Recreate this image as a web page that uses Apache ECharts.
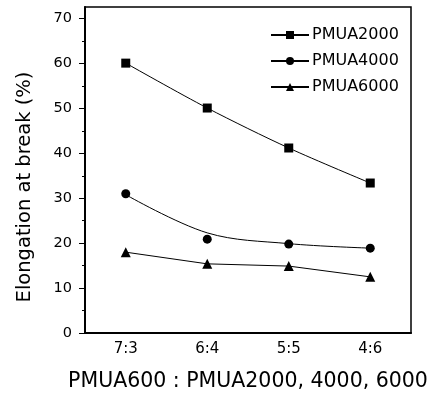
<!DOCTYPE html>
<html>
<head>
<meta charset="utf-8">
<script src="https://cdn.jsdelivr.net/npm/echarts@6/dist/echarts.min.js"></script>
<style>
  html, body { margin: 0; padding: 0; background: #fff; }
  #chart { width: 434px; height: 398px; }
</style>
</head>
<body>
<div id="chart"></div>
<script>
var ratios = ['7:3', '6:4', '5:5', '4:6'];
var pmua2000 = [60.1, 50.1, 41.2, 33.4];
var pmua4000 = [31.0, 20.9, 19.8, 18.9];
// fitted curve drawn through the PMUA4000 points (it misses the 6:4 point)
var pmua4000Fit = [30.8, 22.3, 19.9, 18.9];
var pmua6000 = [18.0, 15.4, 14.9, 12.5];
var yTicks = [0, 10, 20, 30, 40, 50, 60, 70];
var yMinorTicks = [5, 15, 25, 35, 45, 55, 65];

var font = 'DejaVu Sans';
var myChart = echarts.init(document.getElementById('chart'));

var option = {
    animation: false,
    backgroundColor: '#fff',
    textStyle: { fontFamily: font, color: '#000' },
    grid: {
        left: 85,
        right: 23,
        top: 7,
        bottom: 65,
        show: true,
        borderColor: '#000',
        borderWidth: 1.5
    },
    legend: {
        orient: 'vertical',
        left: 270,
        top: 27,
        padding: 0,
        itemWidth: 38,
        itemHeight: 10,
        itemGap: 10,
        data: ['PMUA2000', 'PMUA4000', 'PMUA6000'],
        textStyle: { fontFamily: font, fontSize: 16, color: '#000', padding: [0, 0, 0, -2] }
    },
    xAxis: [
        {
            type: 'category',
            data: ratios,
            position: 'bottom',
            boundaryGap: true,
            axisLine: { lineStyle: { color: '#000', width: 2 } },
            axisTick: { alignWithLabel: true, length: 4, lineStyle: { color: '#000' } },
            axisLabel: { fontFamily: font, fontSize: 15, color: '#000', margin: 9 },
            splitLine: { show: false },
            name: 'PMUA600 : PMUA2000, 4000, 6000',
            nameLocation: 'middle',
            nameGap: 38,
            nameTextStyle: { fontFamily: font, fontSize: 20.5, color: '#000' }
        },
        {
            type: 'category',
            data: ratios,
            position: 'bottom',
            boundaryGap: true,
            axisLine: { show: false },
            axisTick: { length: 2, lineStyle: { color: '#000' } },
            axisLabel: { show: false },
            splitLine: { show: false }
        }
    ],
    yAxis: [
        {
            type: 'value',
            min: 0,
            max: 72.6,
            axisLine: { show: true, lineStyle: { color: '#000', width: 2 } },
            axisTick: { show: true, length: 6, customValues: yTicks, lineStyle: { color: '#000' } },
            axisLabel: { fontFamily: font, fontSize: 14.5, color: '#000', margin: 13, customValues: yTicks },
            splitLine: { show: false },
            name: 'Elongation at break (%)',
            nameLocation: 'middle',
            nameGap: 50,
            nameTextStyle: { fontFamily: font, fontSize: 19.5, color: '#000', padding: [0, 34, 0, 0] }
        },
        {
            type: 'value',
            min: 0,
            max: 72.6,
            position: 'left',
            axisLine: { show: false },
            axisTick: { show: true, length: 3, customValues: yMinorTicks, lineStyle: { color: '#000' } },
            axisLabel: { show: false },
            splitLine: { show: false }
        }
    ],
    series: [
        {
            name: 'PMUA2000',
            type: 'line',
            data: pmua2000,
            smooth: 0.3,
            symbol: 'rect',
            symbolSize: 9,
            color: '#000',
            lineStyle: { color: '#000', width: 1 }
        },
        {
            name: 'PMUA4000',
            type: 'line',
            data: pmua4000Fit,
            smooth: 0.35,
            symbol: 'circle',
            symbolSize: 9,
            showSymbol: false,
            color: '#000',
            lineStyle: { color: '#000', width: 1 }
        },
        {
            name: 'PMUA4000',
            type: 'scatter',
            data: ratios.map(function (r, i) { return [r, pmua4000[i]]; }),
            symbol: 'circle',
            symbolSize: 9,
            color: '#000',
            itemStyle: { color: '#000', opacity: 1 }
        },
        {
            name: 'PMUA6000',
            type: 'line',
            data: pmua6000,
            smooth: false,
            symbol: 'triangle',
            symbolSize: 10,
            color: '#000',
            lineStyle: { color: '#000', width: 1 }
        }
    ]
};

myChart.setOption(option);
</script>
</body>
</html>
